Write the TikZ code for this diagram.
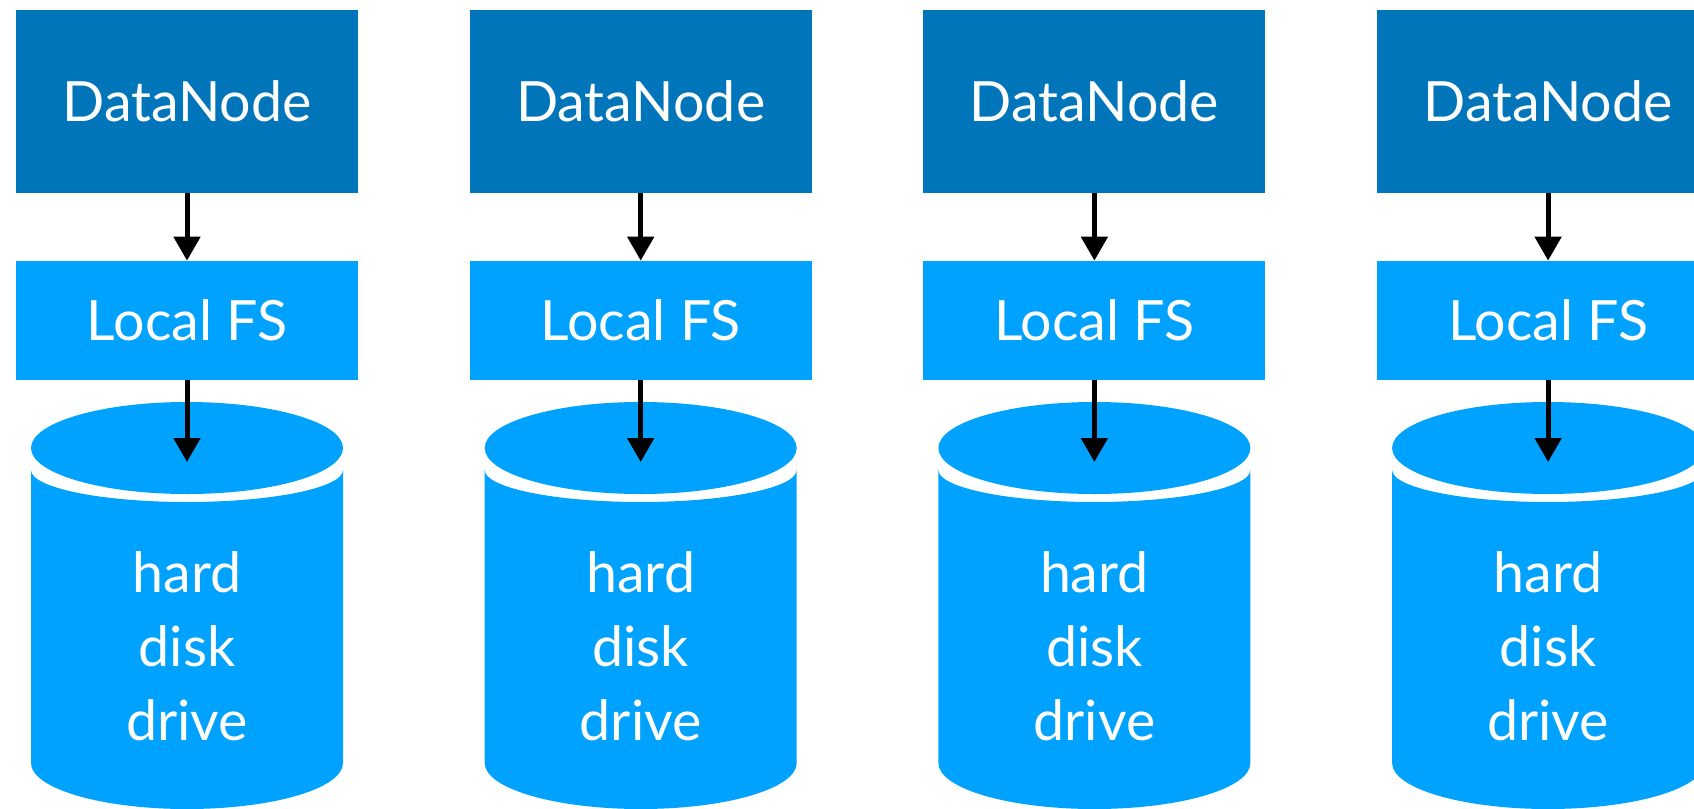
\documentclass[tikz,border=0pt]{standalone}
\usepackage{fontspec}
\setmainfont{Lato}
\usetikzlibrary{arrows.meta}

\definecolor{dnblue}{RGB}{0,117,185}
\definecolor{fsblue}{RGB}{0,162,255}

\tikzset{
  datanode/.style={fill=dnblue, text=white, minimum width=6.84cm,
    minimum height=3.66cm, inner sep=0pt},
  localfs/.style={fill=fsblue, text=white, minimum width=6.84cm,
    minimum height=2.38cm, inner sep=0pt},
  disklabel/.style={text=white, align=center},
  link/.style={line width=0.1cm, -{Triangle[length=0.48cm,width=0.52cm]}}
}

\begin{document}
\begin{tikzpicture}[font=\fontsize{31.6}{42}\selectfont]
  \clip (0,0) rectangle (33.88,-16.16);

  \foreach \i in {1,...,4}
  { \pgfmathsetmacro{\x}{3.74+9.074*(\i-1)}
    \node[datanode] (dn\i) at (\x,-2.03) {DataNode};
    \node[localfs]  (fs\i) at (\x,-6.41) {Local FS};
    % disk drive: body, then lid
    \fill[fsblue] (\x-3.12,-9.40)
      arc[start angle=180,end angle=360,x radius=3.12,y radius=0.64]
      -- (\x+3.12,-15.26)
      arc[start angle=0,end angle=-180,x radius=3.12,y radius=0.92]
      -- cycle;
    \fill[fsblue] (\x,-8.96) ellipse[x radius=3.12,y radius=0.92];
    \node[disklabel] (hd\i) at (\x,-12.92) {hard\\disk\\drive};
    \coordinate (top\i) at (\x,-9.24);
    \draw[link] (dn\i) -- (fs\i);
    \draw[link] (fs\i) -- (top\i);
  }
\end{tikzpicture}
\end{document}
